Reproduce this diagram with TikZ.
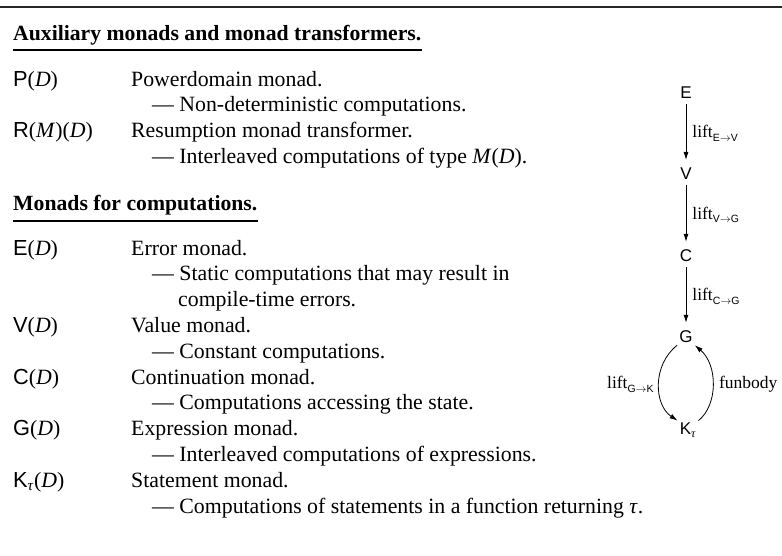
\documentclass[tikz,border=0pt]{standalone}
\usepackage{fontspec}
\setmainfont{Liberation Serif}
\setsansfont{Liberation Sans}
\usetikzlibrary{arrows.meta}
\newcommand{\mnd}[1]{{\sffamily #1}}
\newcommand{\vr}[1]{\textit{#1}\/}
\newcommand{\liftsub}[2]{lift\raisebox{-0.45ex}{\fontsize{10.5}{10.5}\selectfont\sffamily #1$\to$#2}}
\begin{document}
\begin{tikzpicture}[x=1pt,y=-1pt,
  every node/.style={inner sep=0pt},
  txt/.style={anchor=base west, font=\fontsize{21.8}{25.8}\selectfont},
  ttl/.style={anchor=base west, font=\fontsize{21.7}{25.8}\selectfont\bfseries},
  uline/.style={line width=1.2pt},
  dg/.style={font=\fontsize{17}{20}\selectfont, inner sep=2pt},
  arr/.style={line width=0.8pt, -{Latex[length=8pt,width=5pt]}},
  lbl/.style={font=\fontsize{17.5}{20}\selectfont, inner sep=0pt}]
\useasboundingbox (0,0) rectangle (782,555);
\draw[line width=1.8pt, black!85] (0,7) -- (782,7);

% section 1
\node[ttl] (t1) at (13,40) {Auxiliary monads and monad transformers.};
\draw[uline] ([yshift=-10pt]t1.base west) -- ([yshift=-10pt]t1.base east);
\node[txt] (p) at (13,86) {\mnd{P}(\vr{D})};
\node[txt] (pd) at (131,86) {Powerdomain monad.};
\node[txt] (pdd) at (152,111.8) {— Non-deterministic computations.};
\node[txt] (r) at (13,137.6) {\mnd{R}(\vr{M})(\vr{D})};
\node[txt] (rd) at (131,137.6) {Resumption monad transformer.};
\node[txt] (rdd) at (152,163.4) {— Interleaved computations of type \vr{M}(\vr{D}).};

% section 2
\node[ttl] (t2) at (13,210) {Monads for computations.};
\draw[uline] ([yshift=-11pt]t2.base west) -- ([yshift=-11pt]t2.base east);
\node[txt] (e) at (13,255) {\mnd{E}(\vr{D})};
\node[txt] (ed) at (131,255) {Error monad.};
\node[txt] (edd) at (152,280.8) {— Static computations that may result in};
\node[txt] (eddd) at (178,306.6) {compile-time errors.};
\node[txt] (v) at (13,332.4) {\mnd{V}(\vr{D})};
\node[txt] (vd) at (131,332.4) {Value monad.};
\node[txt] (vdd) at (152,358.2) {— Constant computations.};
\node[txt] (c) at (13,384) {\mnd{C}(\vr{D})};
\node[txt] (cd) at (131,384) {Continuation monad.};
\node[txt] (cdd) at (152,409.8) {— Computations accessing the state.};
\node[txt] (g) at (13,435.6) {\mnd{G}(\vr{D})};
\node[txt] (gd) at (131,435.6) {Expression monad.};
\node[txt] (gdd) at (152,461.4) {— Interleaved computations of expressions.};
\node[txt] (k) at (13,487.2) {\mnd{K}\textsubscript{\vr{τ}}(\vr{D})};
\node[txt] (kd) at (131,487.2) {Statement monad.};
\node[txt] (kdd) at (152,513) {— Computations of statements in a function returning \vr{τ}.};

% diagram
\node[dg] (nE) at (686,93) {\sffamily E};
\node[dg] (nV) at (686,174) {\sffamily V};
\node[dg] (nC) at (686,256) {\sffamily C};
\node[dg] (nG) at (686,337) {\sffamily G};
\node[dg] (nK) at (688,430) {\mnd{K}\textsubscript{\vr{τ}}};
\draw[arr, shorten <=3pt, shorten >=6pt] (nE) -- node[lbl, right=6pt]{\liftsub{E}{V}} (nV);
\draw[arr, shorten <=3pt, shorten >=6pt] (nV) -- node[lbl, right=6pt]{\liftsub{V}{G}} (nC);
\draw[arr, shorten <=3pt, shorten >=6pt] (nC) -- node[lbl, right=6pt]{\liftsub{C}{G}} (nG);
\draw[arr] (nG.south west) .. controls (652,365) and (654,405) .. node[lbl, left=5pt]{\liftsub{G}{K}} (nK.north west);
\draw[arr] (nK.north east) .. controls (718,405) and (718,365) .. node[lbl, right=6pt]{funbody} (nG.south east);
\end{tikzpicture}
\end{document}
